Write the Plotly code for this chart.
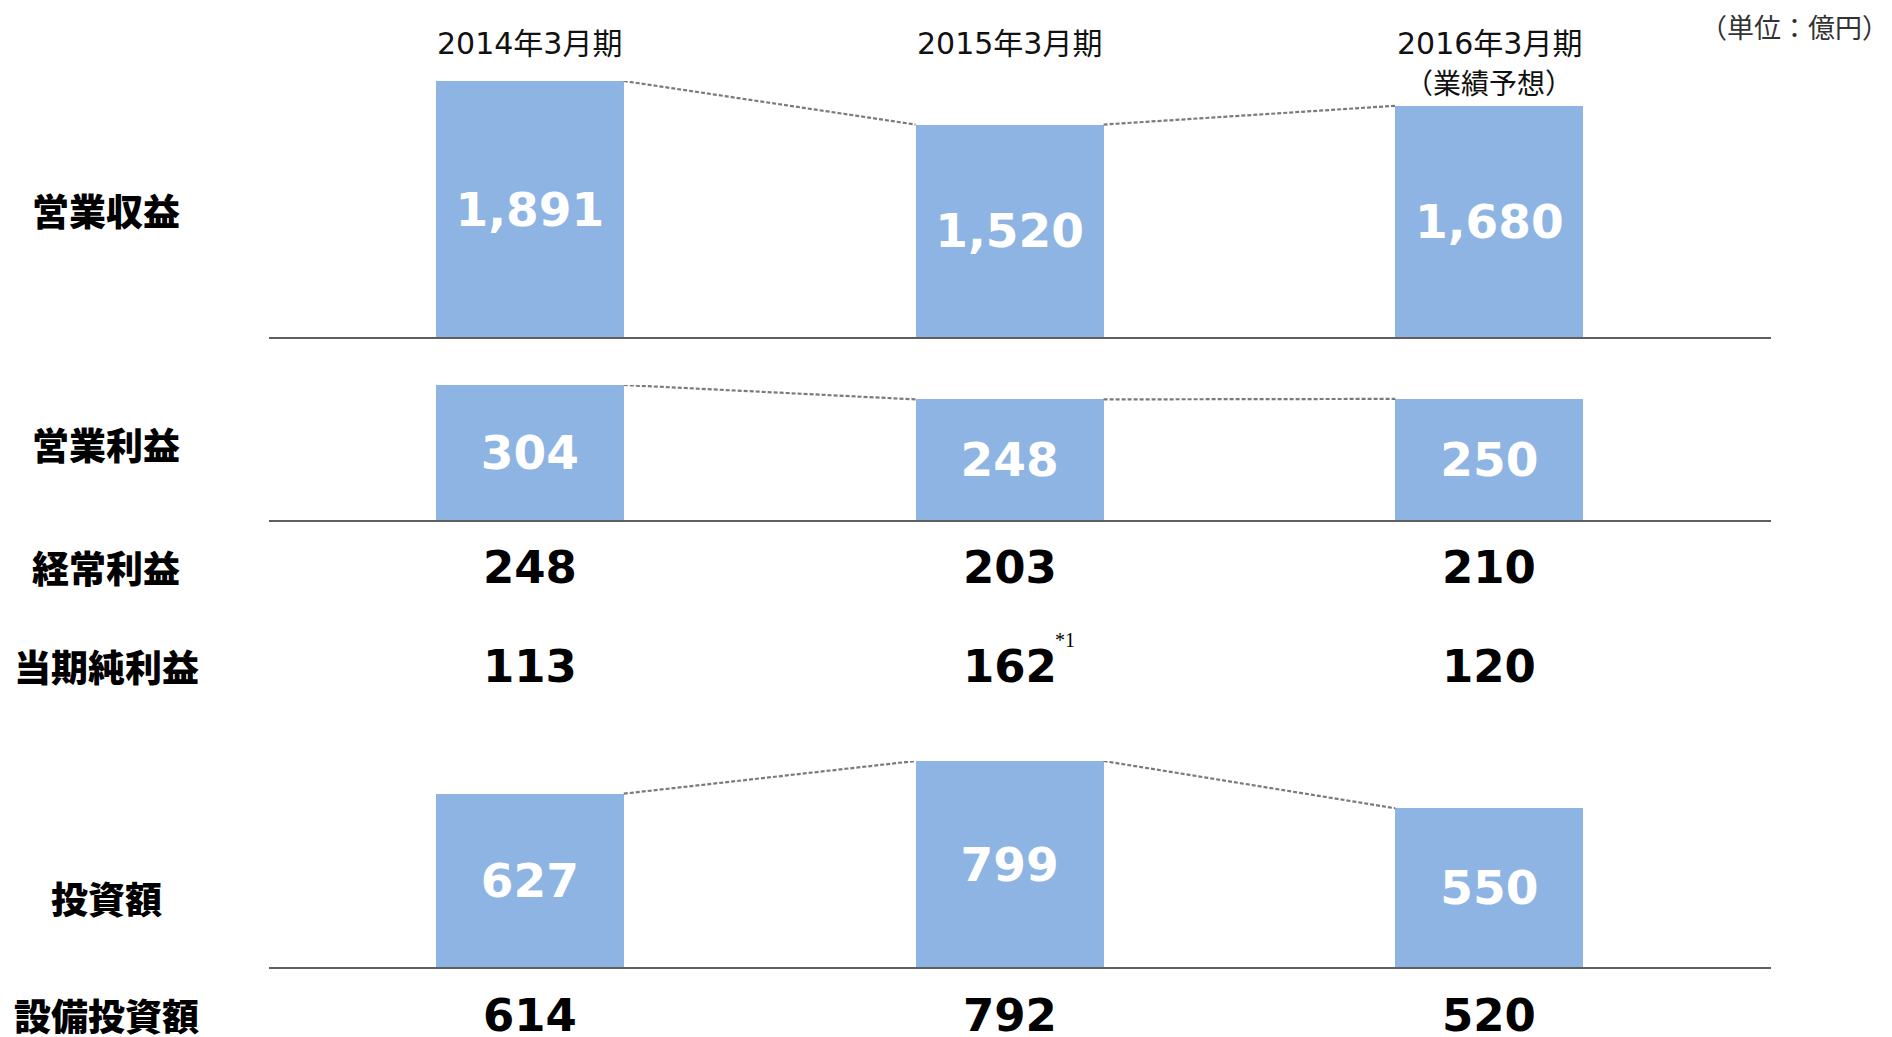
import plotly.graph_objects as go

# ---------------- data ----------------
periods = ["2014年3月期", "2015年3月期", "2016年3月期"]
period_notes = ["", "", "（業績予想）"]
unit_label = "（単位：億円）"

revenue = [1891, 1520, 1680]          # 営業収益
op_profit = [304, 248, 250]           # 営業利益
ordinary_profit = [248, 203, 210]     # 経常利益
net_profit = [113, 162, 120]          # 当期純利益
net_profit_marks = ["", "*1", ""]
investment = [627, 799, 550]          # 投資額
capex = [614, 792, 520]               # 設備投資額

row_labels = ["営業収益", "営業利益", "経常利益", "当期純利益", "投資額", "設備投資額"]

# ---------------- layout constants ----------------
W, H = 1892, 1037
BAR_COLOR = "#8EB4E3"
LINE_COLOR = "#5f5f5f"
DASH_COLOR = "#7a7a7a"
JP = "Noto Sans CJK JP"
NUM = "DejaVu Sans, Noto Sans CJK JP"
BAR_W = 0.392
X_RANGE = [-0.5435, 2.587]
X_DOMAIN = [269 / W, 1771 / W]


def py(p):
    """pixel y (from top) -> paper y"""
    return 1 - p / H


# panel: (values, axis floor, pixel bottom, pixel top-of-max)
panels = [
    (revenue, -290, 337, 81),
    (op_profit, -221, 520, 385),
    (investment, -286, 967, 761),
]

fig = go.Figure()
layout_axes = {}
for i, (vals, floor, pb, pt) in enumerate(panels, start=1):
    xa = "x" if i == 1 else f"x{i}"
    ya = "y" if i == 1 else f"y{i}"
    fig.add_trace(go.Bar(
        x=list(range(len(periods))),
        y=[v - floor for v in vals],
        base=[floor] * len(vals),
        width=BAR_W,
        marker=dict(color=BAR_COLOR, line=dict(width=0)),
        text=[f"{v:,}" for v in vals],
        textposition="inside",
        insidetextanchor="middle",
        textangle=0,
        textfont=dict(family="DejaVu Sans", size=47, color="white", weight="bold"),
        cliponaxis=False,
        xaxis=xa, yaxis=ya,
        hoverinfo="skip",
        showlegend=False,
    ))
    # dashed connectors between bar tops
    for k in range(len(vals) - 1):
        fig.add_trace(go.Scatter(
            x=[k + BAR_W / 2, k + 1 - BAR_W / 2],
            y=[vals[k], vals[k + 1]],
            mode="lines",
            line=dict(color=DASH_COLOR, width=2.2, dash="4px,2px"),
            xaxis=xa, yaxis=ya,
            hoverinfo="skip",
            showlegend=False,
            cliponaxis=False,
        ))
    top_val = max(vals)
    layout_axes["xaxis" if i == 1 else f"xaxis{i}"] = dict(
        domain=X_DOMAIN, range=X_RANGE, anchor=ya,
        showline=True, linecolor=LINE_COLOR, linewidth=2,
        showticklabels=False, ticks="", showgrid=False, zeroline=False,
        fixedrange=True,
    )
    layout_axes["yaxis" if i == 1 else f"yaxis{i}"] = dict(
        domain=[py(pb), py(pt)], range=[floor, top_val], anchor=xa,
        visible=False, showgrid=False, zeroline=False, fixedrange=True,
    )

fig.update_layout(**layout_axes)

ann = []
# period headers
for k, p in enumerate(periods):
    ann.append(dict(x=k, xref="x", y=py(44), yref="paper", text=p,
                    showarrow=False, xanchor="center", yanchor="middle",
                    font=dict(family=NUM, size=30, color="#111111")))
    if period_notes[k]:
        ann.append(dict(x=k, xref="x", y=py(82), yref="paper", text=period_notes[k],
                        showarrow=False, xanchor="center", yanchor="middle",
                        font=dict(family=JP, size=28, color="#111111")))

# unit
ann.append(dict(x=1891 / W, xref="paper", y=py(27), yref="paper", text=unit_label,
                showarrow=False, xanchor="right", yanchor="middle",
                font=dict(family=JP, size=27, color="#333333")))

# row labels
row_y = [210, 444, 567, 666, 898, 1015]
for lab, yy in zip(row_labels, row_y):
    ann.append(dict(x=106 / W, xref="paper", y=py(yy), yref="paper", text=lab,
                    showarrow=False, xanchor="center", yanchor="middle",
                    font=dict(family=JP, size=37, color="black", weight=900)))

# text-only rows
for vals, yy, marks in [(ordinary_profit, 567, None),
                        (net_profit, 666, net_profit_marks),
                        (capex, 1015, None)]:
    for k, v in enumerate(vals):
        ann.append(dict(x=k, xref="x", y=py(yy), yref="paper", text=f"{v:,}",
                        showarrow=False, xanchor="center", yanchor="middle",
                        font=dict(family="DejaVu Sans", size=45, color="black", weight="bold")))
        if marks and marks[k]:
            ann.append(dict(x=k, xref="x", y=py(640), yref="paper", text=marks[k],
                            showarrow=False, xanchor="left", yanchor="middle", xshift=43,
                            font=dict(family="Liberation Serif", size=20, color="black")))

fig.update_layout(
    annotations=ann,
    width=W, height=H,
    margin=dict(l=0, r=0, t=0, b=0),
    paper_bgcolor="white", plot_bgcolor="rgba(0,0,0,0)",
    showlegend=False,
    bargap=0,
    uniformtext=dict(mode=False),
)

fig.write_html("out.html", config={"displayModeBar": False, "staticPlot": True},
               post_script="document.body.style.margin='0';document.body.style.overflow='hidden';")
